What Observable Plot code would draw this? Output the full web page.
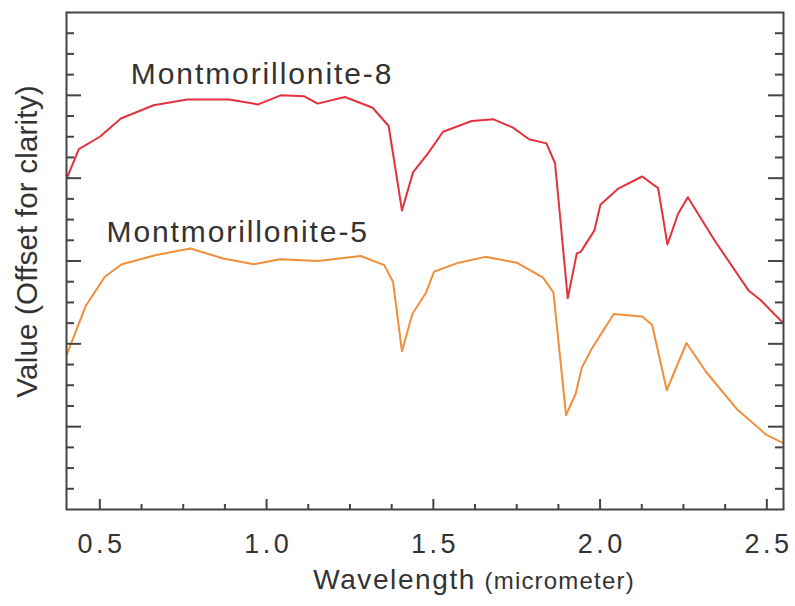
<!DOCTYPE html>
<html>
<head>
<meta charset="utf-8">
<script src="https://cdn.jsdelivr.net/npm/d3@7"></script>
<script src="https://cdn.jsdelivr.net/npm/@observablehq/plot@0.6"></script>
<style>
html, body { margin: 0; padding: 0; background: #fff; }
#chart svg { display: block; }
</style>
</head>
<body>
<div id="chart"></div>
<script>
// Montmorillonite-8 (upper curve)
const m8Wavelength = [0.400, 0.437, 0.500, 0.563, 0.661, 0.762, 0.888, 0.975, 1.042, 1.112, 1.153, 1.235, 1.318, 1.366, 1.406, 1.439, 1.484, 1.529, 1.615, 1.681, 1.739, 1.787, 1.839, 1.865, 1.903, 1.930, 1.942, 1.983, 2.001, 2.053, 2.126, 2.174, 2.202, 2.234, 2.263, 2.343, 2.446, 2.481, 2.547];
const m8Value = [3.99, 4.35, 4.50, 4.72, 4.88, 4.95, 4.95, 4.89, 5.00, 4.99, 4.90, 4.98, 4.85, 4.63, 3.61, 4.07, 4.30, 4.56, 4.69, 4.71, 4.61, 4.47, 4.42, 4.18, 2.55, 3.09, 3.11, 3.37, 3.68, 3.87, 4.02, 3.88, 3.20, 3.57, 3.77, 3.25, 2.64, 2.53, 2.26];

// Montmorillonite-5 (lower curve)
const m5Wavelength = [0.400, 0.458, 0.515, 0.566, 0.666, 0.772, 0.870, 0.962, 1.040, 1.154, 1.282, 1.353, 1.379, 1.406, 1.437, 1.477, 1.502, 1.576, 1.656, 1.750, 1.829, 1.860, 1.898, 1.927, 1.945, 1.975, 2.041, 2.126, 2.156, 2.200, 2.259, 2.318, 2.413, 2.499, 2.550];
const m5Value = [1.86, 2.46, 2.81, 2.96, 3.07, 3.15, 3.03, 2.96, 3.02, 3.00, 3.06, 2.95, 2.75, 1.91, 2.36, 2.61, 2.87, 2.98, 3.05, 2.98, 2.80, 2.62, 1.14, 1.40, 1.71, 1.94, 2.36, 2.33, 2.23, 1.44, 2.01, 1.66, 1.20, 0.90, 0.80];

const seriesNames = ["Montmorillonite-8", "Montmorillonite-5"];
const seriesColors = ["#e2333d", "#ef8f3a"];
const labelWavelength = [0.593, 0.520];
const labelValue = [5.141, 3.228];

const xTicks = [0.5, 1.0, 1.5, 2.0, 2.5];
const xTickLabels = ["0.5", "1.0", "1.5", "2.0", "2.5"];
const xMinorTicks = [0.625, 0.75, 0.875, 1.125, 1.25, 1.375, 1.625, 1.75, 1.875, 2.125, 2.25, 2.375];
const yMajorTicks = [1, 2, 3, 4, 5];
const yMinorTicks = [0.25, 0.5, 0.75, 1.25, 1.5, 1.75, 2.25, 2.5, 2.75, 3.25, 3.5, 3.75, 4.25, 4.5, 4.75, 5.25, 5.5, 5.75];

const xTitle = "Wavelength";
const xTitleUnit = "(micrometer)";
const yTitle = "Value (Offset for clarity)";

const W = 795, H = 606, mL = 66, mR = 12, mT = 12, mB = 97;
const iw = W - mL - mR, ih = H - mT - mB;
const axisColor = "#454545";
const textColor = "#333333";

const rows = [
  ...m8Wavelength.map((w, i) => ({series: seriesNames[0], wavelength: w, value: m8Value[i]})),
  ...m5Wavelength.map((w, i) => ({series: seriesNames[1], wavelength: w, value: m5Value[i]}))
];

const spacingBySize = {"30": "1.9px", "27": "3.5px", "28": "1.6px", "24": "1.2px", "29.5": "0.2px"};

const chart = Plot.plot({
  width: W, height: H,
  marginLeft: mL, marginRight: mR, marginTop: mT, marginBottom: mB,
  x: {domain: [0.4, 2.55], axis: null},
  y: {domain: [0, 6], axis: null},
  color: {domain: seriesNames, range: seriesColors},
  style: {fontFamily: "'Liberation Sans', Arial, Helvetica, sans-serif", color: textColor, background: "#fff"},
  marks: [
    Plot.line(rows, {x: "wavelength", y: "value", z: "series", stroke: "series", strokeWidth: 2, clip: true}),
    Plot.tickY(yMajorTicks, {y: d => d, insetRight: iw - 15, stroke: axisColor, strokeWidth: 2}),
    Plot.tickY(yMajorTicks, {y: d => d, insetLeft: iw - 15, stroke: axisColor, strokeWidth: 2}),
    Plot.tickY(yMinorTicks, {y: d => d, insetRight: iw - 8, stroke: axisColor, strokeWidth: 2}),
    Plot.tickY(yMinorTicks, {y: d => d, insetLeft: iw - 8, stroke: axisColor, strokeWidth: 2}),
    Plot.tickX(xTicks, {x: d => d, insetTop: ih - 10, stroke: axisColor, strokeWidth: 2}),
    Plot.tickX(xMinorTicks, {x: d => d, insetTop: ih - 5, stroke: axisColor, strokeWidth: 2}),
    Plot.frame({stroke: axisColor, strokeWidth: 2}),
    Plot.text(xTicks, {x: d => d, text: (d, i) => xTickLabels[i], frameAnchor: "bottom", textAnchor: "middle", lineAnchor: "bottom", dx: 1.7, dy: 43, fontSize: 27, fill: textColor}),
    Plot.text(seriesNames, {x: (d, i) => labelWavelength[i], y: (d, i) => labelValue[i], text: d => d, textAnchor: "start", lineAnchor: "bottom", fontSize: 30, fill: textColor}),
    Plot.text([xTitle], {text: d => d, frameAnchor: "bottom", textAnchor: "end", lineAnchor: "bottom", dx: 51, dy: 79, fontSize: 28, fill: textColor}),
    Plot.text([xTitleUnit], {text: d => d, frameAnchor: "bottom", textAnchor: "start", lineAnchor: "bottom", dx: 59.5, dy: 79, fontSize: 24, fill: textColor}),
    Plot.text([yTitle], {text: d => d, frameAnchor: "left", rotate: -90, textAnchor: "middle", lineAnchor: "bottom", dx: -30, dy: -19.5, fontSize: 29.5, fill: textColor})
  ]
});

// letter spacing to match the wide type of the reference
chart.querySelectorAll("g[font-size]").forEach(g => {
  const s = spacingBySize[g.getAttribute("font-size")];
  if (s) g.style.letterSpacing = s;
});

document.getElementById("chart").appendChild(chart);
</script>
</body>
</html>
